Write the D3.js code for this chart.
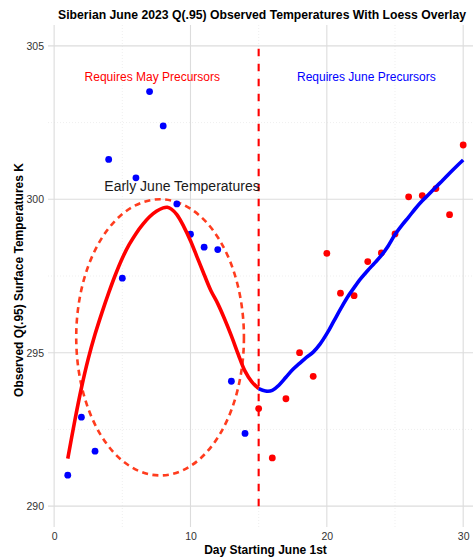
<!DOCTYPE html>
<html>
<head>
<meta charset="utf-8">
<script src="https://cdn.jsdelivr.net/npm/d3@7"></script>
<style>
body { margin: 0; background: #fff; }
text { font-family: "Liberation Sans", Arial, Helvetica, sans-serif; }
</style>
</head>
<body>
<script>
const w = 473;
const h = 559;

// observed Q(.95) values, day 1..30
const days = d3.range(1, 31);
const temps = [291.01, 292.90, 291.79, 301.30, 297.43, 300.70, 303.51, 302.39, 299.85, 298.86,
               298.44, 298.36, 294.07, 292.37, 293.18, 291.57, 293.50, 295.00, 294.23, 298.24,
               296.94, 296.86, 297.97, 298.25, 298.87, 300.08, 300.12, 300.35, 299.50, 301.77];
const splitDay = 15;

// loess fit, early part (days 1-15)
const mayDays = [1, 1.5, 2, 2.5, 3, 3.5, 4, 4.5, 5, 5.5, 6, 6.5, 7, 7.5, 8, 8.3, 8.6, 9, 9.5, 10,
                 10.5, 11, 11.5, 12, 12.5, 13, 13.5, 14, 14.5, 15];
const mayFit = [291.55, 292.75, 293.85, 294.8, 295.6, 296.3, 296.95, 297.55, 298.08, 298.52,
                298.88, 299.18, 299.43, 299.61, 299.72, 299.74, 299.68, 299.5, 299.12, 298.65,
                298.1, 297.55, 297.02, 296.6, 296.1, 295.55, 294.95, 294.4, 294.05, 293.83];

// loess fit, late part (days 15-30)
const juneDays = [15, 15.5, 16, 16.5, 17, 17.5, 18, 18.5, 19, 19.5, 20, 20.5, 21, 21.5, 22, 22.5,
                  23, 23.5, 24, 24.5, 25, 25.5, 26, 26.5, 27, 27.5, 28, 28.5, 29, 29.5, 30];
const juneFit = [293.83, 293.75, 293.77, 293.95, 294.2, 294.45, 294.65, 294.85, 295.02, 295.28,
                 295.62, 296.02, 296.42, 296.8, 297.12, 297.42, 297.68, 297.92, 298.17, 298.48,
                 298.85, 299.15, 299.42, 299.7, 299.95, 300.17, 300.4, 300.62, 300.85, 301.07, 301.28];

// ellipse around early June: centre day, centre temp, half width (days), half height (K)
const ellipse = [7.77, 295.5, 6.15, 4.5];

const xTicks = [0, 10, 20, 30];
const xMinor = [5, 15, 25];
const yTicks = [290, 295, 300, 305];
const yMinor = [292.5, 297.5, 302.5];

const svg = d3.select("body")
    .append("svg")
    .attr("width", w)
    .attr("height", h);

const xScale = d3.scaleLinear()
    .domain([-0.45, 30.72])
    .range([48, 473]);

const yScale = d3.scaleLinear()
    .domain([289.32, 305.68])
    .range([527, 25]);

const [x0, x1] = xScale.range();
const [y0, y1] = yScale.range();

// grid
svg.append("g").selectAll("line")
    .data(xMinor).enter().append("line")
    .attr("x1", d => xScale(d)).attr("x2", d => xScale(d))
    .attr("y1", y1).attr("y2", y0)
    .attr("stroke", "#e4e4e4").attr("stroke-width", 0.6)
    .attr("stroke-dasharray", "1,2");

svg.append("g").selectAll("line")
    .data(yMinor).enter().append("line")
    .attr("x1", x0).attr("x2", x1)
    .attr("y1", d => yScale(d)).attr("y2", d => yScale(d))
    .attr("stroke", "#e4e4e4").attr("stroke-width", 0.6)
    .attr("stroke-dasharray", "1,2");

svg.append("g").selectAll("line")
    .data(xTicks).enter().append("line")
    .attr("x1", d => xScale(d)).attr("x2", d => xScale(d))
    .attr("y1", y1).attr("y2", y0)
    .attr("stroke", "#dcdcdc").attr("stroke-width", 1.1);

svg.append("g").selectAll("line")
    .data(yTicks).enter().append("line")
    .attr("x1", x0).attr("x2", x1)
    .attr("y1", d => yScale(d)).attr("y2", d => yScale(d))
    .attr("stroke", "#dcdcdc").attr("stroke-width", 1.1);

// axes (labels only, like theme_minimal)
const xAxis = d3.axisBottom(xScale).tickValues(xTicks).tickSize(0).tickPadding(6);
svg.append("g")
    .attr("class", "xaxis")
    .attr("transform", "translate(0," + y0 + ")")
    .call(xAxis)
    .call(g => g.select(".domain").remove())
    .selectAll("text")
    .attr("font-size", 10.5).attr("fill", "#333")
    .style("font-family", "Liberation Sans, Arial, sans-serif");

const yAxis = d3.axisLeft(yScale).tickValues(yTicks).tickSize(0).tickPadding(4);
svg.append("g")
    .attr("class", "yaxis")
    .attr("transform", "translate(" + x0 + ",0)")
    .call(yAxis)
    .call(g => g.select(".domain").remove())
    .selectAll("text")
    .attr("font-size", 10.5).attr("fill", "#333")
    .style("font-family", "Liberation Sans, Arial, sans-serif");

// ellipse
svg.append("ellipse")
    .attr("cx", xScale(ellipse[0]))
    .attr("cy", yScale(ellipse[1]))
    .attr("rx", xScale(ellipse[0] + ellipse[2]) - xScale(ellipse[0]))
    .attr("ry", yScale(ellipse[1] - ellipse[3]) - yScale(ellipse[1]))
    .attr("fill", "none")
    .attr("stroke", "#ff3c1e")
    .attr("stroke-width", 2.6)
    .attr("stroke-dasharray", "6,4.5");

// split line
svg.append("line")
    .attr("x1", xScale(splitDay)).attr("x2", xScale(splitDay))
    .attr("y1", yScale(290)).attr("y2", yScale(305))
    .attr("stroke", "#ff0000")
    .attr("stroke-width", 2.1)
    .attr("stroke-dasharray", "7.5,7.5");

// points
svg.append("g").selectAll("circle")
    .data(days).enter().append("circle")
    .attr("cx", d => xScale(d))
    .attr("cy", (d, i) => yScale(temps[i]))
    .attr("r", 3.4)
    .attr("fill", d => d < splitDay ? "#0000ff" : "#ff0000");

// loess curves
const line = d3.line()
    .x(d => xScale(d[0]))
    .y(d => yScale(d[1]))
    .curve(d3.curveCatmullRom);

svg.append("path")
    .attr("d", line(d3.zip(mayDays, mayFit)))
    .attr("fill", "none")
    .attr("stroke", "#ff0000")
    .attr("stroke-width", 3.6);

svg.append("path")
    .attr("d", line(d3.zip(juneDays, juneFit)))
    .attr("fill", "none")
    .attr("stroke", "#0000ff")
    .attr("stroke-width", 3.6);

// annotations
svg.append("text")
    .attr("x", xScale(7.2)).attr("y", yScale(304))
    .attr("text-anchor", "middle").attr("dominant-baseline", "central")
    .attr("font-size", 12).attr("fill", "#ff0000")
    .text("Requires May Precursors");

svg.append("text")
    .attr("x", xScale(22.9)).attr("y", yScale(304))
    .attr("text-anchor", "middle").attr("dominant-baseline", "central")
    .attr("font-size", 12).attr("fill", "#0000ff")
    .text("Requires June Precursors");

svg.append("text")
    .attr("x", xScale(9.38)).attr("y", yScale(300.43))
    .attr("text-anchor", "middle").attr("dominant-baseline", "central")
    .attr("font-size", 14).attr("fill", "#1a1a1a")
    .text("Early June Temperatures");

// titles
svg.append("text")
    .attr("x", 58).attr("y", 19)
    .attr("font-size", 12.4).attr("font-weight", "bold")
    .attr("textLength", 408).attr("lengthAdjust", "spacingAndGlyphs")
    .text("Siberian June 2023 Q(.95) Observed Temperatures With Loess Overlay");

svg.append("text")
    .attr("x", (x0 + x1) / 2 + 5).attr("y", 554)
    .attr("text-anchor", "middle")
    .attr("font-size", 12).attr("font-weight", "bold")
    .text("Day Starting June 1st");

svg.append("text")
    .attr("transform", "translate(23," + ((y0 + y1) / 2 + 4) + ") rotate(-90)")
    .attr("text-anchor", "middle")
    .attr("font-size", 12).attr("font-weight", "bold")
    .text("Observed Q(.95) Surface Temperatures K");
</script>
</body>
</html>
